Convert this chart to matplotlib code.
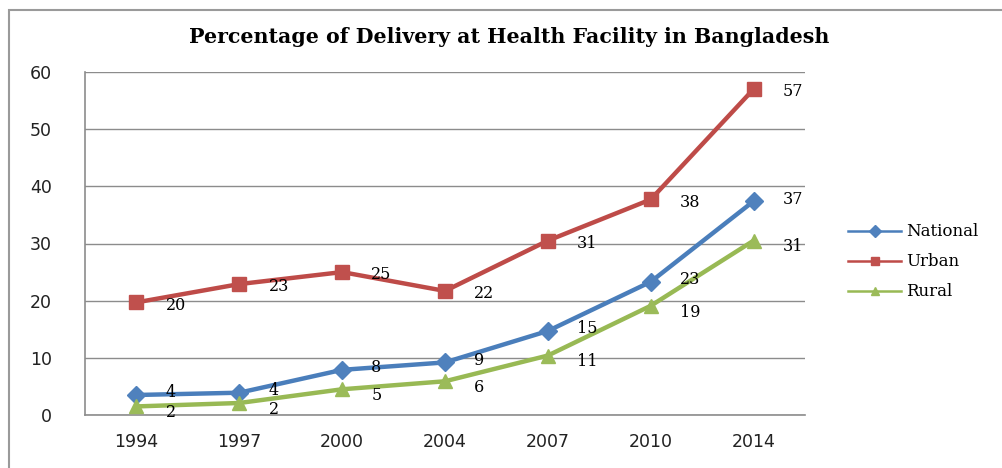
import matplotlib.pyplot as plt
from matplotlib.lines import Line2D
from matplotlib.patches import Rectangle
import numpy as np

years = ['1994', '1997', '2000', '2004', '2007', '2010', '2014']
national = [3.5, 3.9, 7.9, 9.2, 14.7, 23.3, 37.4]
urban = [19.7, 22.9, 25.0, 21.7, 30.5, 37.7, 57.0]
rural = [1.5, 2.1, 4.5, 5.9, 10.4, 19.1, 30.5]
labels_nat = ['4', '4', '8', '9', '15', '23', '37']
labels_urb = ['20', '23', '25', '22', '31', '38', '57']
labels_rur = ['2', '2', '5', '6', '11', '19', '31']

serif = ['DejaVu Serif']

fig = plt.figure(figsize=(10.03, 4.68), dpi=100)
ax = fig.add_axes([85/1003, 1 - 415/468, 720/1003, 343/468])

# outer chart border
fig.patches.append(Rectangle((9/1003, -0.1), 1.2, 1.1 - 10/468, transform=fig.transFigure,
                             fill=False, edgecolor='#9a9a9a', lw=1.5))

x = np.arange(len(years))
series = [
    ('National', national, labels_nat, '#4A7EBB', '#4F81BD', 'D', 9, 1.5),
    ('Urban', urban, labels_urb, '#BE4B48', '#C0504D', 's', 10, -2),
    ('Rural', rural, labels_rur, '#98B954', '#9BBB59', '^', 10.5, -4.5),
]
handles = []
for name, vals, labs, lc, mc, mk, ms, dy in series:
    ax.plot(x, vals, color=lc, lw=3.2, marker=mk, markersize=ms,
            markerfacecolor=mc, markeredgecolor=mc, zorder=3)
    for xi, v, t in zip(x, vals, labs):
        ax.annotate(t, (xi, v), xytext=(21, dy), textcoords='offset points',
                    ha='left', va='center', fontsize=11.5, family=serif, zorder=4)
    handles.append(Line2D([], [], color=lc, lw=1.8, marker=mk, markersize=6,
                          markerfacecolor=mc, markeredgecolor=mc, label=name))

ax.set_xlim(-0.5, 6.5)
ax.set_ylim(0, 60)
ax.set_yticks(range(0, 61, 10))
ax.set_xticks(x)
ax.set_xticklabels(years)
ax.tick_params(length=0, labelsize=12.5, colors='#222222')
ax.tick_params(axis='y', pad=24)
ax.tick_params(axis='x', pad=13)
ax.grid(axis='y', color='#8c8c8c', lw=1)
ax.set_axisbelow(True)
for s in ['top', 'right']:
    ax.spines[s].set_visible(False)
for s in ['left', 'bottom']:
    ax.spines[s].set_color('#8c8c8c')
    ax.spines[s].set_linewidth(1.2)

fig.text(509/1003, 1 - 37/468, 'Percentage of Delivery at Health Facility in Bangladesh',
         ha='center', va='center', fontsize=14.8, fontweight='bold', family=serif)

fig.legend(handles=handles, loc='center left', bbox_to_anchor=(833/1003, 1 - 262/468),
           frameon=False, prop={'family': serif, 'size': 12}, handlelength=3.2,
           labelspacing=0.78, handletextpad=0.3)

fig.savefig('out.png', dpi=100)
